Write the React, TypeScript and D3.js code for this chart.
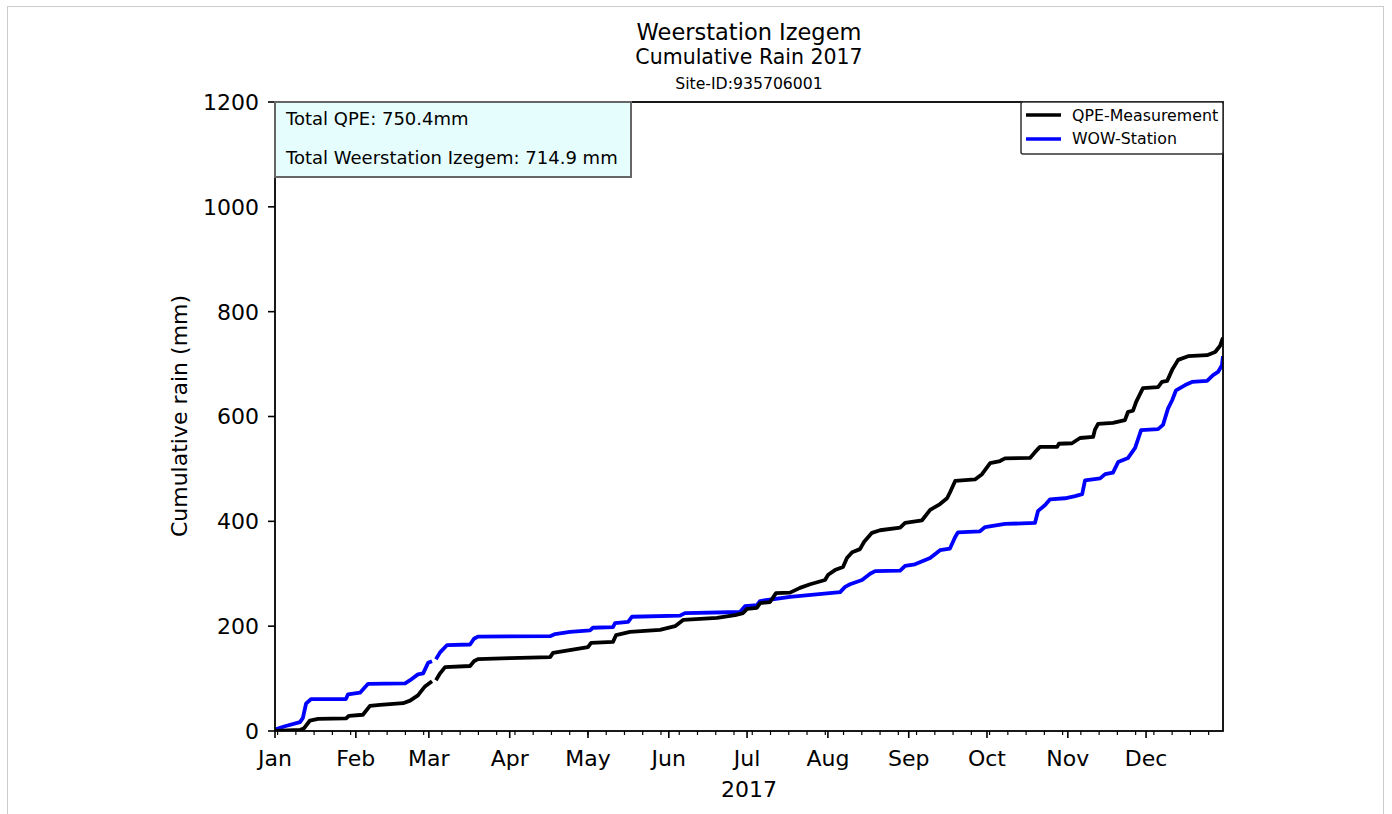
import React from "react";
import * as d3 from "d3";

// Day of year (0 = Jan 1 2017) and cumulative rain (mm)
const qpeDays = [0.0, 9.6, 11.1, 13.4, 16.5, 27.2, 28.4, 33.7, 36.4, 40.3, 49.1, 51.8, 54.8, 57.5, 60.2, 61.0, 61.7, 63.3, 65.2, 74.8, 76.3, 77.8, 90.1, 105.5, 106.6, 120.0, 121.2, 129.6, 130.8, 136.1, 147.6, 153.4, 156.5, 169.5, 176.4, 179.5, 181.0, 184.8, 186.0, 189.8, 192.1, 197.5, 201.3, 205.2, 210.9, 212.1, 214.7, 217.8, 219.3, 221.3, 224.3, 225.9, 228.9, 232.0, 239.7, 241.6, 248.1, 251.2, 255.0, 257.7, 258.8, 260.8, 268.4, 271.1, 274.2, 278.0, 279.9, 289.5, 291.4, 293.3, 299.9, 300.6, 305.6, 308.7, 313.7, 314.4, 315.6, 321.3, 325.9, 327.1, 329.0, 330.2, 332.8, 338.6, 340.1, 342.1, 344.0, 346.3, 350.1, 357.4, 360.5, 362.4, 363.5];
const qpeMm = [0, 2, 5, 20, 23, 24, 29, 31, 48, 50, 53, 58, 68, 85, 95, NaN, 97, 110, 122, 124, 133, 137, 139, 141, 149, 160, 168, 170, 183, 189, 193, 200, 212, 216, 221, 225, 233, 235, 244, 246, 263, 264, 273, 280, 288, 298, 307, 313, 330, 341, 347, 361, 378, 383, 388, 397, 402, 422, 433, 444, 455, 477, 480, 490, 511, 515, 520, 521, 532, 542, 542, 548, 549, 559, 561, 575, 586, 588, 593, 609, 611, 628, 654, 656, 666, 668, 689, 708, 715, 717, 723, 735, 750.4];

const wowDays = [0.0, 3.8, 9.6, 10.7, 11.9, 13.8, 27.2, 28.0, 32.6, 35.7, 49.9, 51.8, 54.8, 56.8, 58.7, 60.2, 61.0, 61.7, 63.3, 66.0, 74.8, 76.3, 77.8, 105.5, 107.4, 113.1, 120.8, 121.9, 129.6, 130.4, 135.4, 136.9, 155.3, 157.2, 178.3, 180.2, 184.8, 186.0, 197.5, 216.7, 218.6, 220.5, 225.1, 228.2, 230.1, 239.7, 241.6, 245.4, 251.2, 255.0, 258.8, 260.8, 261.9, 270.3, 272.3, 279.9, 291.4, 292.6, 295.3, 297.2, 302.9, 306.8, 309.5, 310.6, 316.4, 318.3, 321.3, 323.3, 327.1, 329.8, 332.1, 338.6, 340.5, 342.4, 344.0, 345.5, 349.0, 351.6, 357.4, 359.7, 361.6, 363.1, 363.5];
const wowMm = [3, 9, 17, 25, 52, 61, 61, 70, 73, 90, 91, 97, 108, 110, 130, 133, NaN, 137, 150, 164, 165, 176, 180, 181, 185, 189, 192, 197, 198, 206, 208, 218, 220, 225, 227, 238, 240, 248, 256, 265, 275, 280, 288, 300, 305, 306, 315, 318, 330, 345, 348, 370, 379, 381, 389, 395, 397, 420, 431, 442, 444, 448, 452, 478, 482, 490, 493, 513, 521, 540, 574, 576, 584, 615, 631, 650, 660, 666, 668, 679, 685, 698, 714.9];

const yTicks = [0, 200, 400, 600, 800, 1000, 1200];
const titleLines = ["Weerstation Izegem", "Cumulative Rain 2017", "Site-ID:935706001"];
const infoLines = ["Total QPE: 750.4mm", "Total Weerstation Izegem: 714.9 mm"];
const legendItems = [
  { label: "QPE-Measurement", color: "#000000" },
  { label: "WOW-Station", color: "#0000ff" },
];

const FONT = "DejaVu Sans, Verdana, sans-serif";

export default function App() {
  const L = 275, R = 1223, T = 102, B = 731;
  const start = new Date(2017, 0, 1);
  const dayToDate = (d: number) => new Date(start.getTime() + d * 86400000);
  const x = d3.scaleTime().domain([start, dayToDate(363.5)]).range([L, R]);
  const y = d3.scaleLinear().domain([0, 1200]).range([B, T]);

  const mk = (days: number[], mm: number[]) => days.map((d, i) => ({ date: dayToDate(d), v: mm[i] }));
  const qpe = mk(qpeDays, qpeMm);
  const wow = mk(wowDays, wowMm);
  const line = d3
    .line<{ date: Date; v: number }>()
    .defined((p) => !isNaN(p.v))
    .x((p) => x(p.date))
    .y((p) => y(p.v));

  const months = d3.timeMonth.range(start, dayToDate(363.5));
  const mondays = d3.timeMonday.range(start, dayToDate(363.6));
  const fmt = d3.timeFormat("%b");

  return (
    <svg
      width={1392}
      height={814}
      style={{ position: "absolute", left: 0, top: 0, background: "#fff" }}
      fontFamily={FONT}
    >
      <rect x={7.5} y={6.5} width={1376} height={900} fill="#fff" stroke="#cccccc" strokeWidth={1} />
      {/* titles */}
      <text x={749} y={40} textAnchor="middle" fontSize={22.5}>{titleLines[0]}</text>
      <text x={749} y={64} textAnchor="middle" fontSize={20.5}>{titleLines[1]}</text>
      <text x={749} y={89} textAnchor="middle" fontSize={15.7}>{titleLines[2]}</text>

      {/* lines */}
      <g clipPath="url(#clip)">
        <defs>
          <clipPath id="clip">
            <rect x={L} y={T} width={R - L} height={B - T} />
          </clipPath>
        </defs>
        <path d={line(wow) || ""} fill="none" stroke="#0000ff" strokeWidth={3.8} strokeLinejoin="round" />
        <path d={line(qpe) || ""} fill="none" stroke="#000000" strokeWidth={3.8} strokeLinejoin="round" />
      </g>

      {/* axes frame */}
      <rect x={L} y={T} width={R - L} height={B - T} fill="none" stroke="#000" strokeWidth={1.8} />

      {/* y ticks */}
      {yTicks.map((t) => (
        <g key={t}>
          <line x1={L - 7} x2={L} y1={y(t)} y2={y(t)} stroke="#000" strokeWidth={1.6} />
          <text x={L - 16} y={y(t)} dy="0.36em" textAnchor="end" fontSize={22}>{t}</text>
        </g>
      ))}

      {/* x minor ticks */}
      {mondays.map((d, i) => (
        <line key={"m" + i} x1={x(d)} x2={x(d)} y1={B} y2={B + 4} stroke="#000" strokeWidth={1.2} />
      ))}
      {/* x major ticks */}
      {months.map((d, i) => (
        <g key={"M" + i}>
          <line x1={x(d)} x2={x(d)} y1={B} y2={B + 7} stroke="#000" strokeWidth={1.6} />
          <text x={x(d)} y={766} textAnchor="middle" fontSize={22}>{fmt(d)}</text>
        </g>
      ))}
      <text x={749} y={797} textAnchor="middle" fontSize={22}>2017</text>
      <text
        transform={`translate(187,416) rotate(-90)`}
        textAnchor="middle"
        fontSize={22}
      >
        Cumulative rain (mm)
      </text>

      {/* info box */}
      <rect x={L} y={T} width={356} height={75} fill="#e6fdfd" stroke="#666" strokeWidth={2} />
      <text x={286} y={125} fontSize={18}>{infoLines[0]}</text>
      <text x={286} y={164} fontSize={18}>{infoLines[1]}</text>

      {/* legend */}
      <rect x={1021} y={102} width={202} height={52} rx={2} fill="#fff" stroke="#333" strokeWidth={1.5} />
      {legendItems.map((it, i) => (
        <g key={it.label}>
          <line x1={1026} x2={1061} y1={115 + i * 24} y2={115 + i * 24} stroke={it.color} strokeWidth={3.5} />
          <text x={1072} y={121 + i * 23} fontSize={15.8}>{it.label}</text>
        </g>
      ))}
    </svg>
  );
}
